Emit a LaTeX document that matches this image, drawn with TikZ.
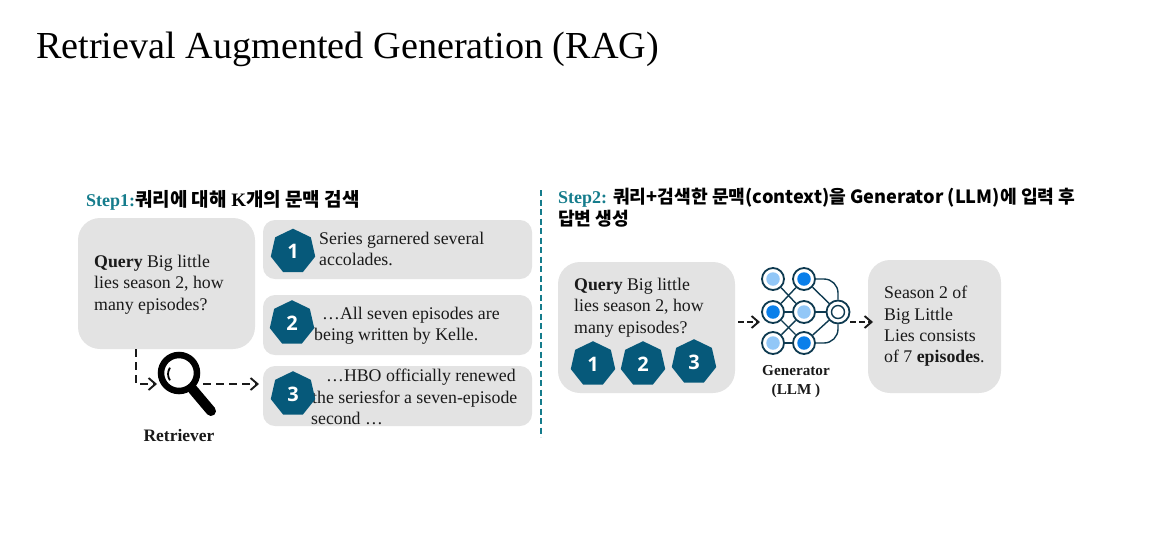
\documentclass[tikz,border=0pt]{standalone}
\usepackage{fontspec}
\setmainfont{Liberation Serif}
\newfontfamily\krfont{Noto Sans CJK KR}
\newfontfamily\numfont{Open Sans}
\usetikzlibrary{arrows.meta,backgrounds}
\definecolor{panel}{HTML}{E3E3E3}
\definecolor{hept}{HTML}{06597A}
\definecolor{stepc}{HTML}{157C8C}
\definecolor{ink}{HTML}{1A1A1A}
\definecolor{netline}{HTML}{0E3A50}
\definecolor{deep}{HTML}{0A7FEA}
\definecolor{pale}{HTML}{92C7F7}
\tikzset{
  x=1pt,y=-1pt,
  panelbox/.style={draw=none,fill=panel,rounded corners=#1,inner sep=0pt},
  body/.style={inner sep=0pt,anchor=north west,align=left,text=ink,font=\fontsize{17.8}{21.4}\selectfont},
  heptnum/.style={inner sep=0pt,text=white,font=\numfont\bfseries\fontsize{20}{20}\selectfont},
  heading/.style={inner sep=0pt,anchor=north west,align=left,text=black,font=\fontsize{18}{22}\selectfont},
  toolname/.style={inner sep=0pt,align=center,text=ink,font=\bfseries\fontsize{17.5}{19}\selectfont},
  flow/.style={draw=ink,line width=1.9pt,dash pattern=on 8pt off 5pt,-{Straight Barb[length=7pt,width=12pt,line width=1.9pt]}},
  netnode/.style={circle,draw=netline,line width=1.8pt,fill=white,minimum size=22,inner sep=0pt},
  netcore/.style={circle,fill=#1,minimum size=13.5,inner sep=0pt},
  netwire/.style={draw=netline,line width=1.4pt},
}
\newcommand{\kr}[1]{{\krfont\bfseries #1}}
\newcommand{\krb}[1]{{\krfont\bfseries\fontsize{18.2}{22}\selectfont #1}}
% name, position, number: a heptagon with one corner up and a flat base
\newcommand{\heptagon}[3]{%
  \fill[hept,shift={(#2)}] (-90:22.8) -- (-38.57:22.8) -- (12.86:22.8) -- (64.29:22.8) -- (115.71:22.8) -- (167.14:22.8) -- (218.57:22.8) -- cycle;
  \node[heptnum] (#1) at (#2) {#3};}
\begin{document}
\begin{tikzpicture}
\useasboundingbox (0,0) rectangle (1151,558);
% title
\node[inner sep=0pt,anchor=west,font=\fontsize{38.2}{40}\selectfont] (title) at (36,49) {Retrieval Augmented Generation (RAG)};
% headings
\node[heading] (step1) at (86,190) {\textcolor{stepc}{\textbf{Step1:}}{\fontsize{19}{22}\selectfont\kr{쿼리에 대해 }\textbf{K}\kr{개의 문맥 검색}}};
\node[heading] (step2) at (558,188) {\textcolor{stepc}{\textbf{Step2:}} \krb{쿼리+검색한 문맥(context)을 Generator (LLM)에 입력 후}\\[0pt]\krb{답변 생성}};
% divider
\coordinate (divtop) at (541,190);
\coordinate (divbot) at (541,437);
\draw[stepc,line width=1.8pt,dash pattern=on 6pt off 3.5pt] (divtop) -- (divbot);
% left panels
\node[panelbox=22pt,minimum width=177,minimum height=131] (query) at (166.5,283.5) {};
\node[panelbox=12pt,minimum width=269,minimum height=59] (doc1) at (397.5,249.5) {};
\node[panelbox=12pt,minimum width=269,minimum height=60] (doc2) at (397.5,325) {};
\node[panelbox=12pt,minimum width=269,minimum height=60] (doc3) at (397.5,396) {};
\node[body] (querytext) at (94,255) {\textbf{Query} Big little\\lies season 2, how\\many episodes?};
\node[body] (doc1text) at (319,232) {Series garnered several\\accolades.};
\node[body] (doc2text) at (314,307) {\hspace*{8pt}…All seven episodes are\\being written by Kelle.};
\node[body] (doc3text) at (311,369) {\hspace*{15pt}…HBO officially renewed\\\hspace*{1pt}the seriesfor a seven-episode\\second …};
\heptagon{h1}{293,251.5}{1}
\heptagon{h2}{292,323}{2}
\heptagon{h3}{293,394}{3}
% retriever
\node[circle,draw=black,line width=6.5pt,fill=white,minimum size=36,inner sep=0pt] (lens) at (179,373) {};
\coordinate (handle) at (211,411);
\draw[black,line width=10pt,line cap=round] (lens.-50) -- (handle);
\draw[black,line width=1.8pt] (170,367.7) arc[start angle=215,end angle=145,radius=11];
\node[toolname] (retriever) at (179,436) {Retriever};
\coordinate (qout) at (136,349);
\coordinate (lensin) at (157,384);
\coordinate (lensout) at (203,384);
\coordinate (docin) at (259,384);
\draw[flow] (qout) |- (lensin);
\draw[flow] (lensout) -- (docin);
% right panels
\node[panelbox=22pt,minimum width=177,minimum height=131] (query2) at (646.5,327.5) {};
\node[panelbox=22pt,minimum width=133,minimum height=133] (answer) at (934.5,326.5) {};
\node[body] (query2text) at (574,278) {\textbf{Query} Big little\\lies season 2, how\\many episodes?};
\node[body] (answertext) at (884,286) {Season 2 of\\Big Little\\Lies consists\\of 7 \textbf{episodes}.};
\heptagon{r1}{593,364}{1}
\heptagon{r2}{643,364}{2}
\heptagon{r3}{694,362}{3}
% network
\node[netnode] (n1) at (773,279) {};
\node[netnode] (n2) at (804,279) {};
\node[netnode] (n3) at (773,312) {};
\node[netnode] (n4) at (804,312) {};
\node[netnode] (n5) at (773,343) {};
\node[netnode] (n6) at (804,343) {};
\node[circle,draw=netline,line width=1.8pt,fill=white,minimum size=23,inner sep=0pt] (out) at (838,312) {};
\begin{scope}[on background layer]
\draw[netwire] (n1) -- (n4);
\draw[netwire] (n3) -- (n2);
\draw[netwire] (n3) -- (n6);
\draw[netwire] (n5) -- (n4);
\draw[netwire] (n3) -- (n4);
\draw[netwire] (n5) -- (n6);
\draw[netwire] (n4) -- (out);
\draw[netwire] (n2) -- (out);
\draw[netwire] (n6) -- (out);
\draw[netwire,rounded corners=14pt] (n2.east) -| (out.north);
\draw[netwire,rounded corners=14pt] (n6.east) -| (out.south);
\end{scope}
\node[netcore=pale] (c1) at (n1) {};
\node[netcore=deep] (c2) at (n2) {};
\node[netcore=deep] (c3) at (n3) {};
\node[netcore=pale] (c4) at (n4) {};
\node[netcore=pale] (c5) at (n5) {};
\node[netcore=deep] (c6) at (n6) {};
\node[circle,draw=netline,line width=1.4pt,fill=white,minimum size=13,inner sep=0pt] (outcore) at (out) {};
\node[toolname,font=\bfseries\fontsize{15.2}{19}\selectfont] (generator) at (796,382) {Generator\\(LLM )};
\coordinate (netin) at (760,322);
\coordinate (qleave) at (738,322);
\coordinate (netout) at (850,322);
\coordinate (ansin) at (873,322);
\draw[flow,dash pattern=on 6pt off 3pt] (qleave) -- (netin);
\draw[flow,dash pattern=on 6pt off 3pt] (netout) -- (ansin);
\end{tikzpicture}
\end{document}
